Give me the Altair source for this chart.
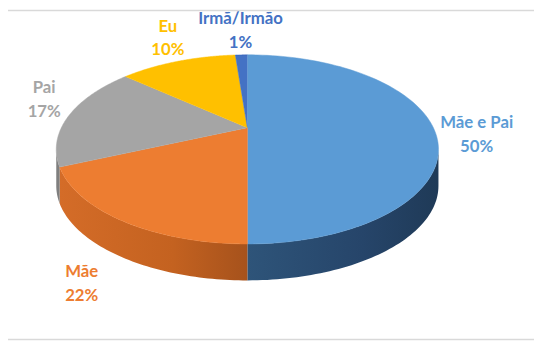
import math
import altair as alt
import pandas as pd

# ---- data ----
categories = ["Mãe e Pai", "Mãe", "Pai", "Eu", "Irmã/Irmão"]
values = [50, 22, 17, 10, 1]
top_colors = ["#5B9BD5", "#ED7D31", "#A5A5A5", "#FFC000", "#4472C4"]
label_colors = ["#5B9BD5", "#ED7D31", "#A5A5A5", "#FFC000", "#4472C4"]

total = sum(values)
a0, a1, acc = [], [], 0
for v in values:
    a0.append(2 * math.pi * acc / total)
    acc += v
    a1.append(2 * math.pi * acc / total)

df = pd.DataFrame({"cat": categories, "val": values, "a0": a0, "a1": a1})

# ---- geometry / layout (styles, not data) ----
W, H = 534, 335
CX, CY = 243, 141          # ellipse centre in chart pixels
RX, RY = 194, 96           # ellipse radii in pixels
DEPTH = 37 / RY            # side height in v-units
CENTER_V = 0.23            # perspective centre offset

u0, u1 = -CX / RX, (W - CX) / RX
v1, v0 = CY / RY, (CY - H) / RY

xs = alt.Scale(domain=[u0, u1], nice=False, zero=False)
ys = alt.Scale(domain=[v0, v1], nice=False, zero=False)
fill_scale = alt.Scale(domain=categories, range=top_colors)

base = alt.Chart(df)

# side walls (front half only)
side_base = base.transform_calculate(
    f0="max(datum.a0, PI/2)",
    f1="min(datum.a1, 3*PI/2)",
).transform_filter("datum.f1 > datum.f0").transform_calculate(
    seq="sequence(0, 61)"
).transform_flatten(["seq"]).transform_calculate(
    ang="datum.f0 + (datum.f1 - datum.f0) * datum.seq / 60",
    u="sin(datum.ang)",
    v="cos(datum.ang)",
    v2=f"cos(datum.ang) - {DEPTH}",
)

def side_layer(cat, fill):
    return side_base.transform_filter(alt.datum.cat == cat).mark_area(
        fill=fill, strokeWidth=0
    ).encode(
        x=alt.X("u:Q", scale=xs, axis=None),
        y=alt.Y("v:Q", scale=ys, axis=None),
        y2="v2:Q",
        detail="cat:N",
    )

blue_grad = alt.LinearGradient(
    gradient="linear", x1=0, x2=1, y1=0, y2=0,
    stops=[alt.GradientStop(color="#2E5479", offset=0),
           alt.GradientStop(color="#26456A", offset=0.6),
           alt.GradientStop(color="#1F3A57", offset=1)],
)
orange_grad = alt.LinearGradient(
    gradient="linear", x1=0, x2=1, y1=0, y2=0,
    stops=[alt.GradientStop(color="#D46C28", offset=0),
           alt.GradientStop(color="#C46220", offset=0.6),
           alt.GradientStop(color="#A6521C", offset=1)],
)

side_blue = side_layer("Mãe e Pai", blue_grad)
side_orange = side_layer("Mãe", orange_grad)
side_gray = side_layer("Pai", "#7F7F7F")

# top face sectors
top = base.transform_calculate(
    seq="sequence(0, 122)"
).transform_flatten(["seq"]).transform_calculate(
    ang="datum.seq == 0 ? 0 : datum.a0 + (datum.a1 - datum.a0) * (datum.seq - 1) / 120",
    u="datum.seq == 0 ? 0 : sin(datum.ang)",
    v=f"datum.seq == 0 ? {CENTER_V} : cos(datum.ang)",
).mark_line(strokeWidth=0.5).encode(
    x=alt.X("u:Q", scale=xs, axis=None),
    y=alt.Y("v:Q", scale=ys, axis=None),
    order=alt.Order("seq:Q"),
    detail="cat:N",
    fill=alt.Fill("cat:N", scale=fill_scale, legend=None),
    stroke=alt.Stroke("cat:N", scale=fill_scale, legend=None),
)

# labels (first line sits at the anchor; second line 24px below)
labels = base.transform_calculate(
    mid="(datum.a0 + datum.a1) / 2",
    lu="(cos(datum.mid) < 0 ? 1.36 : (sin(datum.mid) < 0 ? 1.13 : 1.2)) * sin(datum.mid)",
    lv="1.1 * cos(datum.mid) + 0.15 + 0.125 - (cos(datum.mid) < 0 ? 0.725 : 0)",
    txt="datum.cat + '\\n' + datum.val + '%'",
).mark_text(
    font="Lato", fontWeight="bold", fontSize=17, lineBreak="\n",
    lineHeight=24, align="center", baseline="middle",
).encode(
    x=alt.X("lu:Q", scale=xs, axis=None),
    y=alt.Y("lv:Q", scale=ys, axis=None),
    text="txt:N",
    color=alt.Color("cat:N", scale=alt.Scale(domain=categories, range=label_colors), legend=None),
)

one = alt.Chart(pd.DataFrame({"k": [0]}))
top_rule = one.mark_rule(color="#D9D9D9", strokeWidth=1.5).encode(
    x=alt.value(0), x2=alt.value(W), y=alt.value(0)
)
bottom_rule = one.mark_rule(color="#D9D9D9", strokeWidth=1.5).encode(
    x=alt.value(0), x2=alt.value(W), y=alt.value(H - 1)
)

chart = alt.layer(
    side_blue, side_orange, side_gray, top, labels, top_rule, bottom_rule
).properties(
    width=W, height=H, padding=0, autosize=alt.AutoSizeParams(type="none"),
    background="white",
).configure_view(stroke=None)

chart.save("out.html", embed_options={"renderer": "svg", "actions": False})
